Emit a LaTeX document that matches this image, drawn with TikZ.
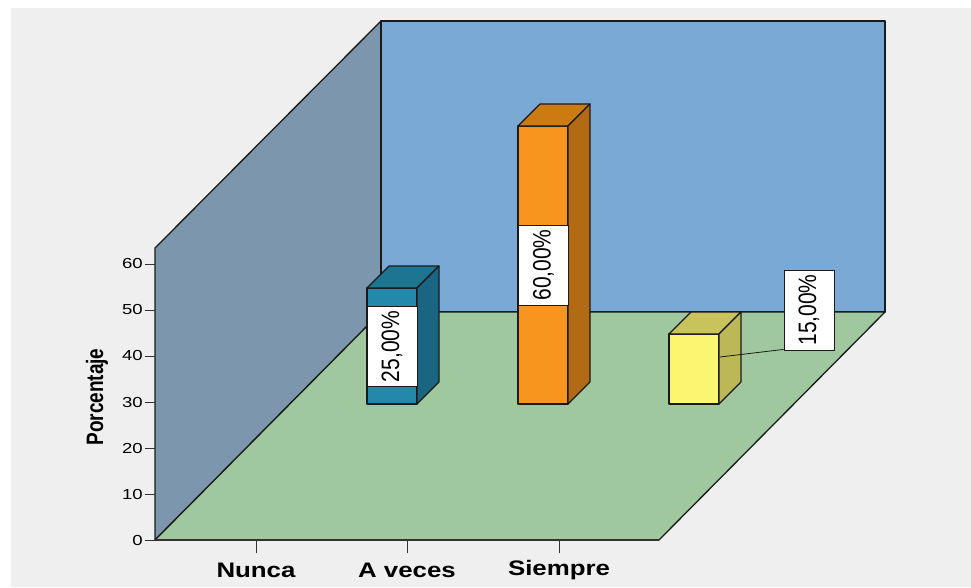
\documentclass[tikz,border=0pt]{standalone}
\usepackage{fontspec}
\setmainfont{Liberation Sans}
\usetikzlibrary{calc}
\definecolor{bgc}{HTML}{EFEFEF}
\definecolor{lwall}{HTML}{7B96AD}
\definecolor{bwall}{HTML}{7AA9D5}
\definecolor{floorc}{HTML}{9FC89F}
\definecolor{edgec}{HTML}{1A1A1A}
\definecolor{tealF}{HTML}{2388AB}
\definecolor{tealT}{HTML}{1E7592}
\definecolor{tealS}{HTML}{1A6581}
\definecolor{oranF}{HTML}{F7951E}
\definecolor{oranT}{HTML}{CC7A12}
\definecolor{oranS}{HTML}{B36A14}
\definecolor{yellF}{HTML}{FAF66F}
\definecolor{yellT}{HTML}{C9C35B}
\definecolor{yellS}{HTML}{BDB857}
\newcommand\mybarbox[6]{%
  \filldraw[fill=#4,bar] (#1,#3) rectangle (#1+50,#2);
  \filldraw[fill=#5,bar] (#1,#2) -- (#1+22,#2-22) -- (#1+72,#2-22) -- (#1+50,#2) -- cycle;
  \filldraw[fill=#6,bar] (#1+50,#2) -- (#1+72,#2-22) -- (#1+72,#3-22) -- (#1+50,#3) -- cycle;
}
\begin{document}
\begin{tikzpicture}[x=1pt,y=-1pt,
  wall/.style={draw=edgec,line width=1.3pt,line join=round},
  bar/.style={draw=edgec,line width=1.1pt,line join=round},
  lbl/.style={draw=edgec,fill=white,line width=0.8pt,rotate=90,minimum width=80pt,minimum height=50pt,inner sep=0pt,font=\fontsize{21}{23}\selectfont},
  ticklbl/.style={anchor=east,inner sep=0pt,font=\fontsize{14.5}{16}\selectfont,text=black},
  catlbl/.style={inner sep=0pt,font=\bfseries\fontsize{21}{23}\selectfont},
  axis/.style={draw=black!80,line width=1.2pt}]
\useasboundingbox (0,0) rectangle (971,587);
\fill[white] (0,0) rectangle (971,587);
\fill[bgc] (11,8) rectangle (971,587);
% walls and floor
\filldraw[fill=lwall,wall] (155,540) -- (155,248) -- (381,21) -- (381,312) -- cycle;
\filldraw[fill=bwall,wall] (381,21) rectangle (885,312);
\filldraw[fill=floorc,wall] (155,540) -- (381,312) -- (885,312) -- (659,540) -- cycle;
% bars
\mybarbox{367}{288}{404}{tealF}{tealT}{tealS}
\mybarbox{518}{126}{404}{oranF}{oranT}{oranS}
\mybarbox{669}{334}{404}{yellF}{yellT}{yellS}
% value labels
\node[lbl] (l25) at (392,346.5) {\scalebox{1}[1.2]{25,00\%}};
\node[lbl] (l60) at (543.5,265) {\scalebox{1}[1.2]{60,00\%}};
\node[lbl] (l15) at (809,310) {\scalebox{1}[1.2]{15,00\%}};
\coordinate (yb) at (720,357);
\draw[edgec,line width=0.8pt] (yb) -- ($(l15.north west)+(0,-1)$);
% y axis
\foreach \v in {0,10,...,60}{
  \draw[axis,line width=1pt] (145,{540-4.6*\v}) -- (155,{540-4.6*\v});
  \node[ticklbl] (t\v) at (143,{540-4.6*\v}) {\scalebox{1.28}[1]{\v}};
}
\node[rotate=90,inner sep=0pt,font=\bfseries\fontsize{19}{21}\selectfont] (ylab) at (97,397) {\scalebox{1}[1.25]{Porcentaje}};
% x axis
\draw[axis] (155,540) -- (659,540);
\foreach \x/\n/\t in {256/a/Nunca,407/b/A veces,559/c/Siempre}{
  \draw[axis,line width=1pt] (\x,540) -- (\x,553);
  \node[catlbl] (c\n) at (\x,570) {\scalebox{1.23}[1]{\t}};
}
\end{tikzpicture}
\end{document}
